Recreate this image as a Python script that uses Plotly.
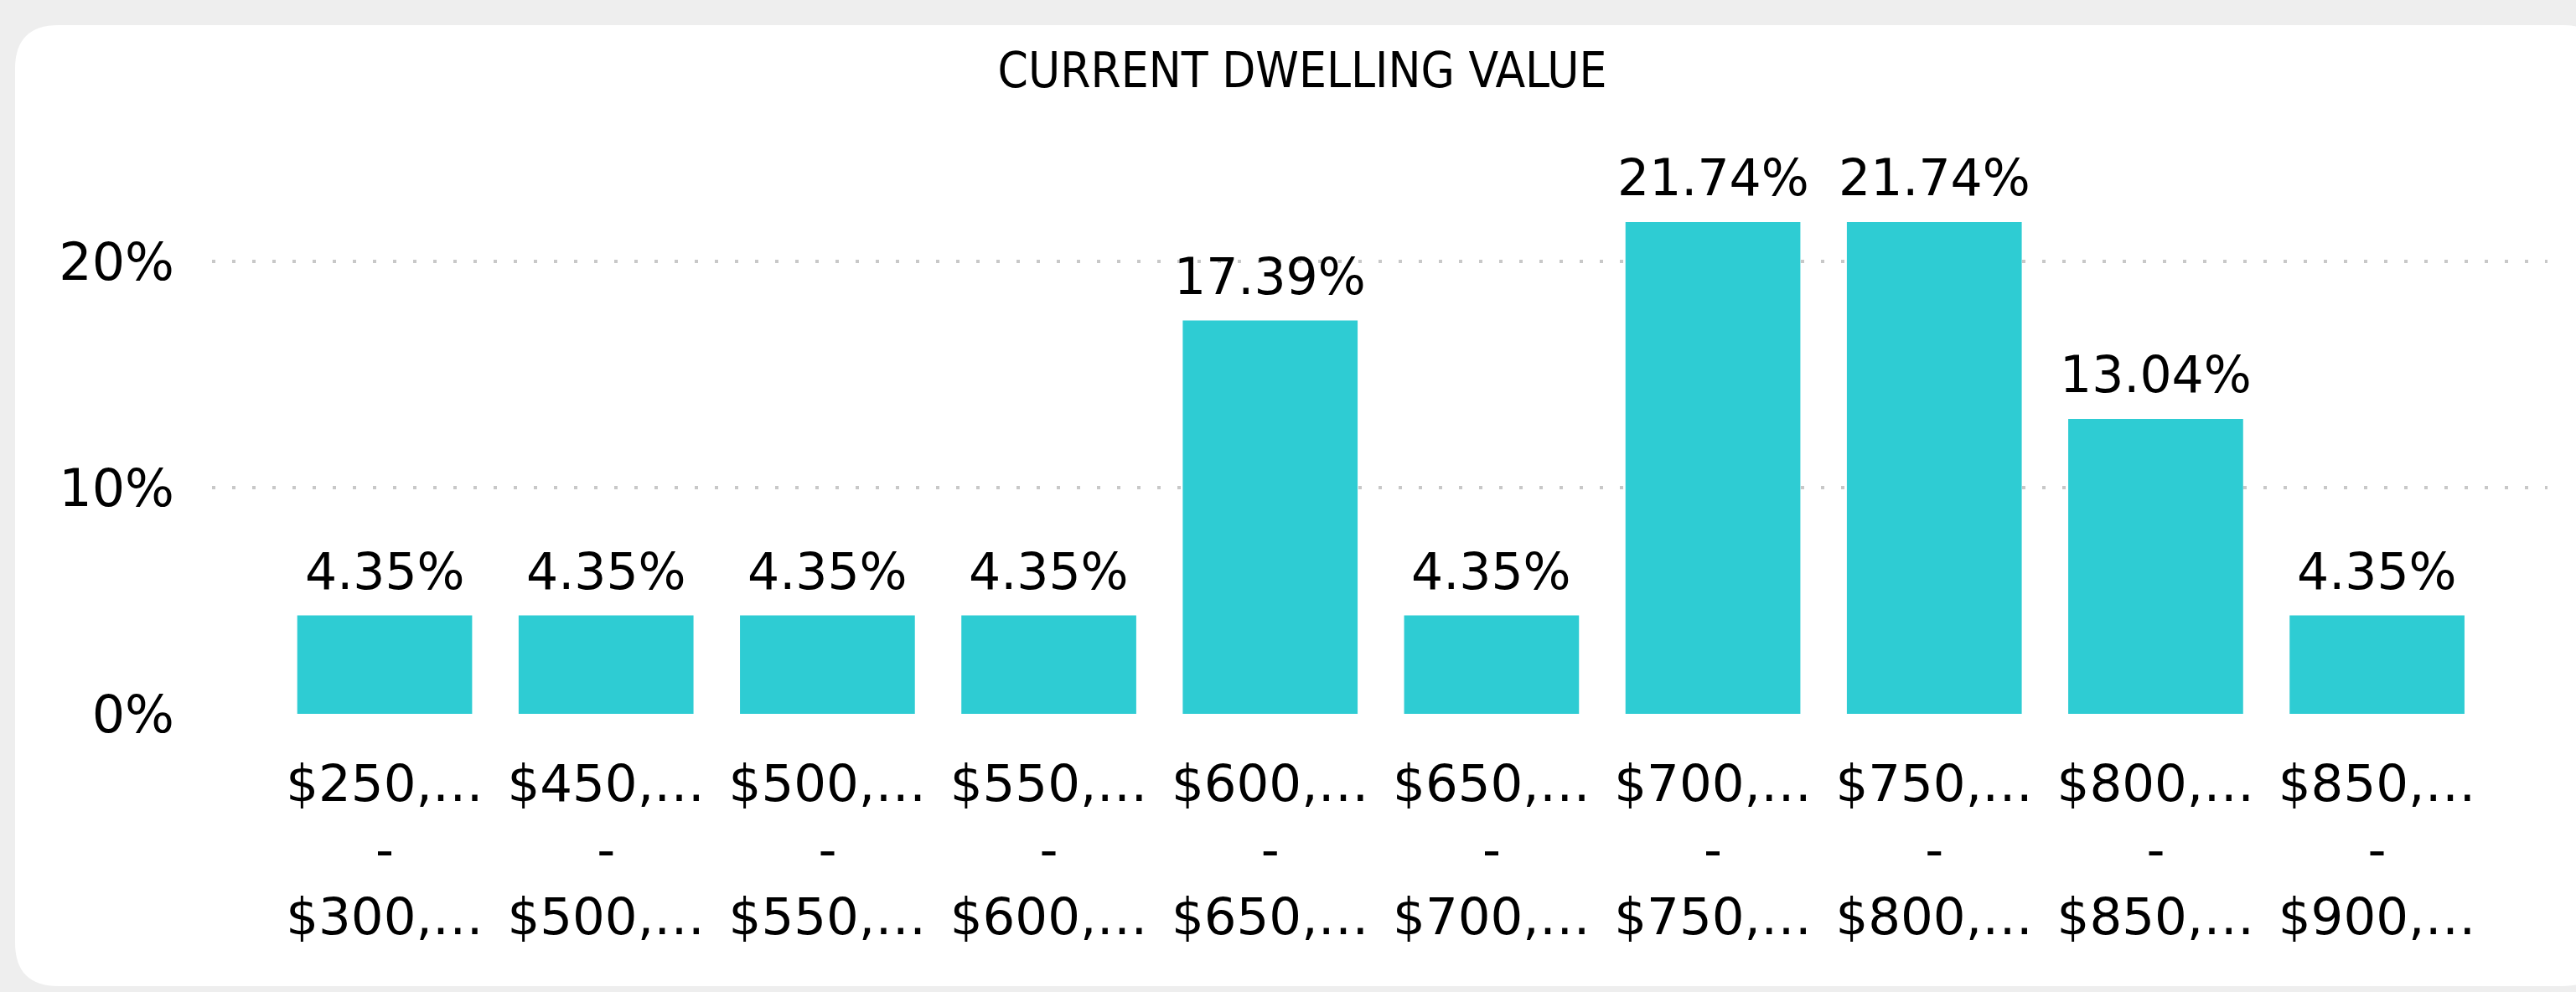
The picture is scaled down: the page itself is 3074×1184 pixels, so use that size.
import plotly.graph_objects as go

# ---- data ----
range_low = ["$250,000", "$450,000", "$500,000", "$550,000", "$600,000",
             "$650,000", "$700,000", "$750,000", "$800,000", "$850,000"]
range_high = ["$300,000", "$500,000", "$550,000", "$600,000", "$650,000",
              "$700,000", "$750,000", "$800,000", "$850,000", "$900,000"]
categories = [f"{lo} - {hi}" for lo, hi in zip(range_low, range_high)]
tick_labels = [f"{lo[:5]}…<br>-<br>{hi[:5]}…" for lo, hi in zip(range_low, range_high)]
share_pct = [4.35, 4.35, 4.35, 4.35, 17.39, 4.35, 21.74, 21.74, 13.04, 4.35]
y_tick_vals = [0, 10, 20]
y_tick_text = ["0%", "10%", "20%"]
title_text = "CURRENT DWELLING VALUE"

# ---- layout geometry (pixels) ----
W, H = 3074, 1184
ML, MR, MT, MB = 253, 34, 176, 332
PW, PH = W - ML - MR, H - MT - MB


def px_x(x):
    return (x - ML) / PW


def px_y(y):
    return 1 - (y - MT) / PH


def rounded_rect(x0, y0, x1, y1, r):
    pts = [
        ("M", px_x(x0 + r), px_y(y0)),
        ("L", px_x(x1 - r), px_y(y0)),
        ("Q", px_x(x1), px_y(y0), px_x(x1), px_y(y0 + r)),
        ("L", px_x(x1), px_y(y1 - r)),
        ("Q", px_x(x1), px_y(y1), px_x(x1 - r), px_y(y1)),
        ("L", px_x(x0 + r), px_y(y1)),
        ("Q", px_x(x0), px_y(y1), px_x(x0), px_y(y1 - r)),
        ("L", px_x(x0), px_y(y0 + r)),
        ("Q", px_x(x0), px_y(y0), px_x(x0 + r), px_y(y0)),
    ]
    s = ""
    for p in pts:
        cmd = p[0]
        coords = p[1:]
        s += cmd + " " + " ".join(
            f"{coords[i]:.5f},{coords[i + 1]:.5f}" for i in range(0, len(coords), 2)
        ) + " "
    return s + "Z"


fig = go.Figure()
fig.add_trace(go.Bar(
    x=categories,
    y=share_pct,
    marker=dict(color="#2ECCD3", line=dict(width=0)),
    hoverinfo="skip",
))

# data labels above each bar
for cat, val in zip(categories, share_pct):
    fig.add_annotation(
        x=cat, y=val, xref="x", yref="y",
        text=f"{val:.2f}%",
        showarrow=False,
        xanchor="center", yanchor="bottom",
        yshift=16,
        font=dict(family="DejaVu Sans", size=60, color="#000000"),
    )

fig.update_layout(
    width=W, height=H,
    margin=dict(l=ML, r=MR, t=MT, b=MB),
    paper_bgcolor="#eeeeee",
    plot_bgcolor="rgba(0,0,0,0)",
    bargap=0.21,
    showlegend=False,
    title=dict(
        text=title_text,
        x=1554 / W, xanchor="center",
        y=1 - 84 / H, yanchor="middle",
        font=dict(family="Liberation Sans Narrow, DejaVu Sans Condensed, Roboto, sans-serif",
                  size=58, color="#000000"),
    ),
    shapes=[dict(
        type="path", xref="paper", yref="paper",
        path=rounded_rect(18, 30, 3110, 1177, 52),
        fillcolor="#ffffff", line=dict(width=0), layer="below",
    )],
    xaxis=dict(
        type="category",
        tickmode="array",
        tickvals=categories,
        ticktext=tick_labels,
        range=[-0.78, 9.77],
        showgrid=False, zeroline=False, showline=False, ticks="",
        tickfont=dict(family="DejaVu Sans", size=61, color="#000000"),
        ticklabelstandoff=42,
        fixedrange=True,
    ),
    yaxis=dict(
        range=[0, 25.04],
        tickmode="array",
        tickvals=y_tick_vals,
        ticktext=y_tick_text,
        showgrid=True,
        gridcolor="#c8c8c8",
        gridwidth=4,
        griddash="4px,20px",
        zeroline=False, showline=False, ticks="",
        tickfont=dict(family="DejaVu Sans", size=62, color="#000000"),
        ticklabelstandoff=44,
        fixedrange=True,
    ),
)

fig.write_html(
    "out.html",
    config={"displayModeBar": False},
    post_script="document.body.style.margin='0';document.body.style.overflow='hidden';",
)
